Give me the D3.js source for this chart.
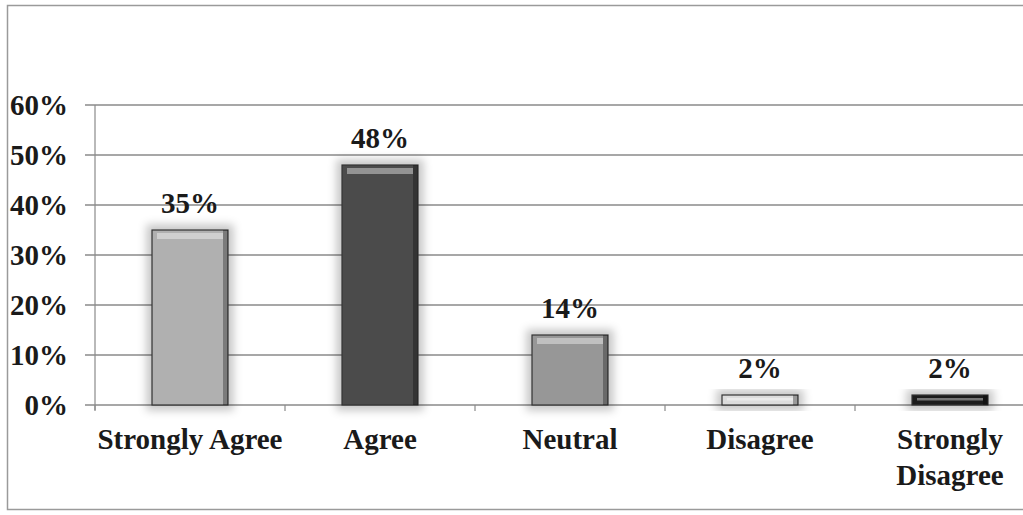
<!DOCTYPE html>
<html><head><meta charset="utf-8">
<script src="https://cdn.jsdelivr.net/npm/d3@7"></script>
<style>body{margin:0;background:#fff;} svg{display:block;}</style>
</head><body>
<script>
const categories = ["Strongly Agree", "Agree", "Neutral", "Disagree", "Strongly Disagree"];
const values = [35, 48, 14, 2, 2];
const valueLabels = ["35%", "48%", "14%", "2%", "2%"];
const yTicks = [0, 10, 20, 30, 40, 50, 60];
const barColors = ["#b0b0b0", "#4b4b4b", "#979797", "#dcdcdc", "#1c1c1c"];

const W = 1023, H = 515;
const svg = d3.select("body").append("svg").attr("width", W).attr("height", H);
const defs = svg.append("defs");
const f = defs.append("filter").attr("id", "glow").attr("x", "-40%").attr("y", "-60%").attr("width", "180%").attr("height", "220%");
f.append("feMorphology").attr("in", "SourceAlpha").attr("operator", "dilate").attr("radius", 5).attr("result", "d");
f.append("feGaussianBlur").attr("in", "d").attr("stdDeviation", 4).attr("result", "b");
f.append("feFlood").attr("flood-color", "#000").attr("flood-opacity", 0.22);
f.append("feComposite").attr("in2", "b").attr("operator", "in").attr("result", "s");
const m = f.append("feMerge"); m.append("feMergeNode").attr("in", "s"); m.append("feMergeNode").attr("in", "SourceGraphic");

// border
svg.append("rect").attr("x", 7.5).attr("y", 5.5).attr("width", 1040).attr("height", 504)
  .attr("fill", "none").attr("stroke", "#9a9a9a").attr("stroke-width", 1.5);

const x = d3.scaleBand().domain(categories).range([95, 1045]).paddingInner(0.6).paddingOuter(0.3);
const y = d3.scaleLinear().domain([0, 60]).range([405, 105]);
const font = "'Liberation Serif','Times New Roman',serif";
const fs = 29;

// gridlines
svg.append("g").selectAll("line").data(yTicks).join("line")
  .attr("x1", 85).attr("x2", W).attr("y1", d => y(d)).attr("y2", d => y(d))
  .attr("stroke", "#8a8a8a").attr("stroke-width", 1.5);
// y axis line
svg.append("line").attr("x1", 95).attr("x2", 95).attr("y1", y(60)).attr("y2", y(0) + 5)
  .attr("stroke", "#8a8a8a").attr("stroke-width", 1.2);
// x tick marks between categories
const bounds = d3.range(categories.length + 1).map(i => 95 + i * (1045 - 95) / categories.length);
svg.append("g").selectAll("line").data(bounds).join("line")
  .attr("x1", d => d).attr("x2", d => d).attr("y1", y(0)).attr("y2", y(0) + 6)
  .attr("stroke", "#8a8a8a").attr("stroke-width", 1.2);

// y labels
svg.append("g").selectAll("text").data(yTicks).join("text")
  .attr("x", 68).attr("y", d => y(d) + 10).attr("text-anchor", "end")
  .attr("font-family", font).attr("font-weight", "bold").attr("font-size", fs).attr("fill", "#1a1a1a")
  .text(d => d + "%");

// bars
const g = svg.append("g");
const bars = g.selectAll("g.bar").data(categories).join("g").attr("class", "bar");
bars.append("rect")
  .attr("x", d => x(d)).attr("width", x.bandwidth())
  .attr("y", (d, i) => y(values[i])).attr("height", (d, i) => y(0) - y(values[i]))
  .attr("fill", (d, i) => barColors[i]).attr("stroke", "#333").attr("stroke-width", 1.2)
  .attr("filter", "url(#glow)");
// bevel highlight at top
bars.append("rect")
  .attr("x", d => x(d) + 5).attr("width", x.bandwidth() - 10)
  .attr("y", (d, i) => y(values[i]) + 3).attr("height", (d, i) => Math.min(6, (y(0) - y(values[i])) / 4))
  .attr("fill", "#fff").attr("opacity", 0.4);
// bevel dark right edge
bars.append("rect")
  .attr("x", d => x(d) + x.bandwidth() - 5).attr("width", 5)
  .attr("y", (d, i) => y(values[i])).attr("height", (d, i) => y(0) - y(values[i]))
  .attr("fill", "#000").attr("opacity", 0.3);

// value labels
svg.append("g").selectAll("text").data(categories).join("text")
  .attr("x", d => x(d) + x.bandwidth() / 2).attr("y", (d, i) => y(values[i]) - 17)
  .attr("text-anchor", "middle").attr("font-family", font).attr("font-weight", "bold")
  .attr("font-size", fs).attr("fill", "#1a1a1a").text((d, i) => valueLabels[i]);

// category labels
const cl = svg.append("g").selectAll("text").data(categories).join("text")
  .attr("x", d => x(d) + x.bandwidth() / 2).attr("y", 449)
  .attr("text-anchor", "middle").attr("font-family", font).attr("font-weight", "bold")
  .attr("font-size", fs).attr("fill", "#1a1a1a");
cl.each(function(d) {
  const t = d3.select(this);
  const lines = d === "Strongly Disagree" ? ["Strongly", "Disagree"] : [d];
  lines.forEach((l, i) => t.append("tspan").attr("x", x(d) + x.bandwidth() / 2).attr("dy", i ? 36 : 0).text(l));
});
</script>
</body></html>
